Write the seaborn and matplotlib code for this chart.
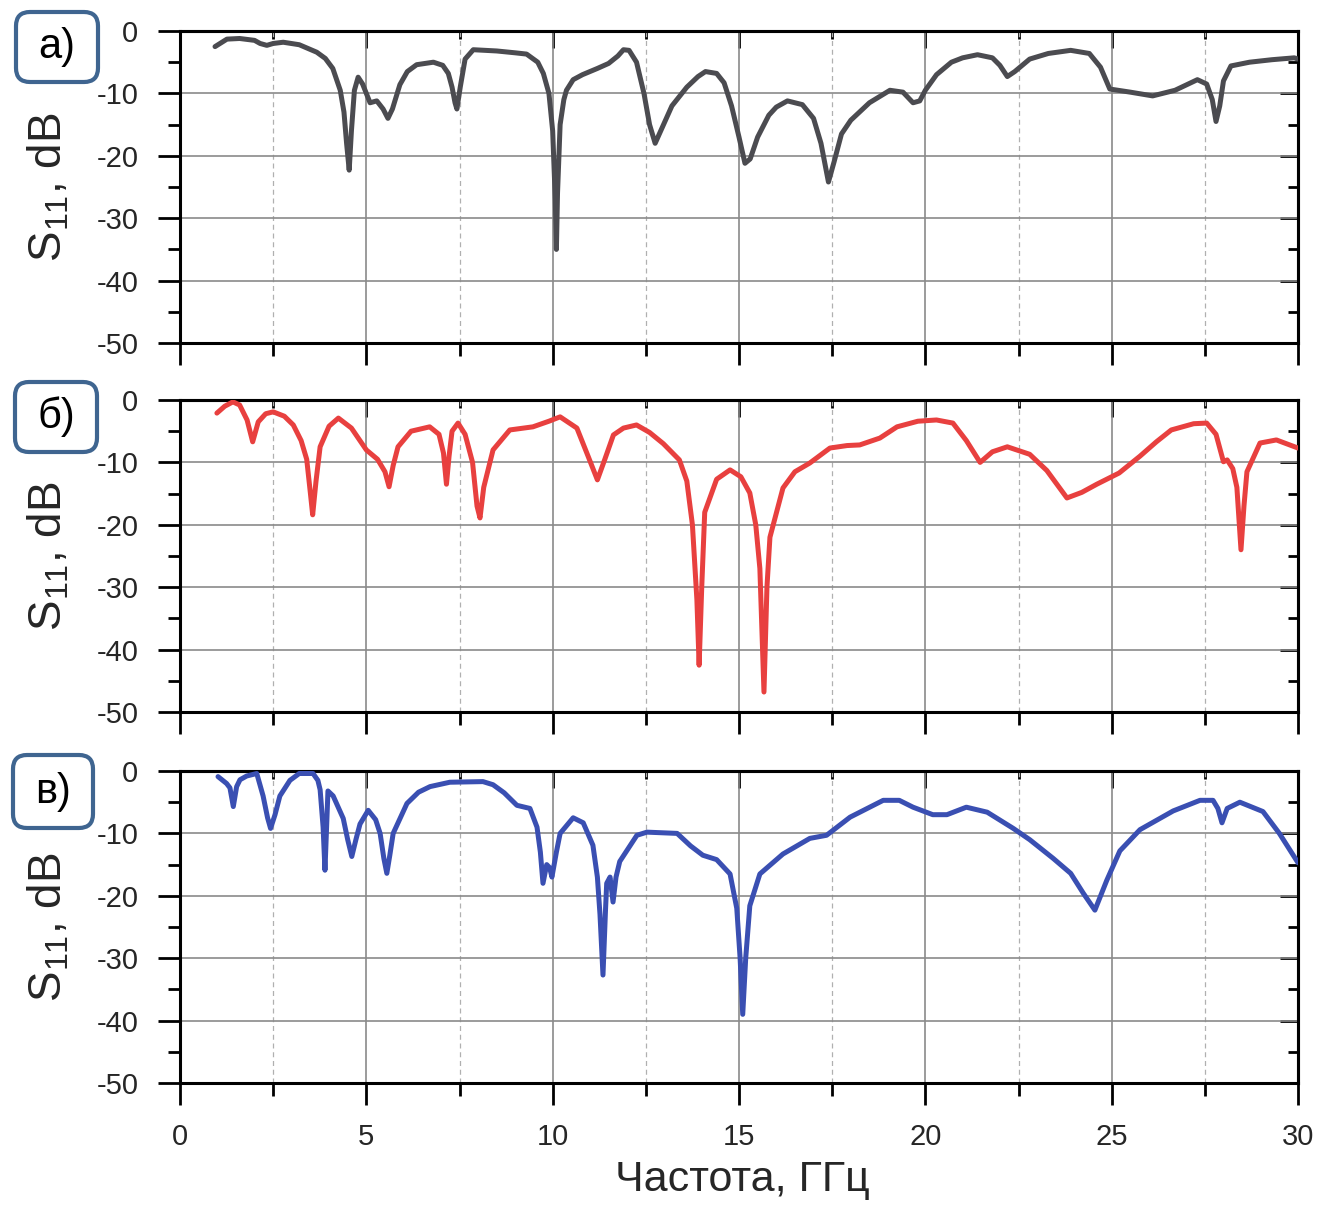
import matplotlib
matplotlib.use('Agg')
import matplotlib.pyplot as plt
import seaborn as sns
import pandas as pd
from matplotlib.ticker import MultipleLocator, NullFormatter
from matplotlib.patches import FancyBboxPatch

# ---------------- data ----------------
a_freq = [0.94, 1.26, 1.6, 2.0, 2.15, 2.33, 2.5, 2.77, 3.2, 3.67,
          3.9, 4.1, 4.3, 4.4, 4.47, 4.54, 4.6, 4.68, 4.78, 4.9, 5.1,
          5.28, 5.45, 5.58, 5.7, 5.9, 6.1, 6.35, 6.8, 7.05, 7.2,
          7.3, 7.38, 7.43, 7.52, 7.65, 7.87, 8.5, 9.0, 9.3, 9.6,
          9.75, 9.9, 10.0, 10.07, 10.1, 10.13, 10.2, 10.3, 10.37, 10.55,
          10.8, 11.2, 11.5, 11.75, 11.9, 12.05, 12.25, 12.45, 12.6, 12.75,
          12.9, 13.2, 13.6, 13.9, 14.1, 14.4, 14.6, 14.8, 15.0, 15.16, 15.3,
          15.5, 15.8, 16.0, 16.3, 16.7, 17.0, 17.2, 17.4, 17.55, 17.75, 18.0,
          18.5, 19.05, 19.4, 19.67, 19.85, 20.0, 20.3, 20.7, 21.0, 21.4, 21.8,
          22.0, 22.2, 22.4, 22.8, 23.3, 23.9, 24.4, 24.7, 24.95, 25.5,
          26.1, 26.7, 27.3, 27.55, 27.7, 27.8, 27.9, 28.0, 28.2, 28.7,
          29.3, 29.9, 30.0]
a_s11 = [-2.5, -1.3, -1.2, -1.5, -2.0, -2.3, -2.0, -1.8, -2.2, -3.4,
         -4.4, -6.0, -9.5, -13, -18, -22.3, -16, -9.5, -7.4, -8.5, -11.5,
         -11.2, -12.5, -14, -12.5, -8.6, -6.5, -5.4, -5.0, -5.5, -6.8,
         -9, -11.5, -12.5, -9, -4.5, -3.0, -3.2, -3.5, -3.7, -5,
         -6.8, -10, -16, -27, -35, -26, -15, -11, -9.5, -7.8,
         -7.0, -6.0, -5.2, -4.0, -3.0, -3.1, -5, -10, -15, -18,
         -16, -12, -9, -7.3, -6.5, -6.8, -8.3, -12, -17, -21.2, -20.5,
         -17, -13.5, -12.2, -11.2, -11.8, -14, -18, -24.2, -21, -16.5, -14.3,
         -11.5, -9.5, -9.8, -11.5, -11.2, -9.5, -7, -5, -4.3, -3.8, -4.3,
         -5.5, -7.3, -6.5, -4.5, -3.6, -3.1, -3.6, -5.8, -9.3, -9.8,
         -10.4, -9.5, -7.8, -8.5, -11, -14.5, -12, -8, -5.6, -5.0,
         -4.6, -4.3, -4.5]

b_freq = [0.99, 1.2, 1.42, 1.6, 1.8, 1.95, 2.1, 2.3, 2.5, 2.8,
          3.04, 3.25, 3.4, 3.5, 3.56, 3.65, 3.76, 4.0, 4.25, 4.6,
          5.0, 5.3, 5.5, 5.61, 5.72, 5.85, 6.2, 6.7, 6.95, 7.07,
          7.15, 7.22, 7.3, 7.46, 7.65, 7.85, 7.97, 8.05, 8.15, 8.4,
          8.85, 9.47, 9.9, 10.2, 10.65, 10.95, 11.2, 11.4, 11.63, 11.9, 12.25, 12.6,
          12.97, 13.4, 13.6, 13.75, 13.87, 13.93, 14.0, 14.08, 14.4, 14.76,
          15.05, 15.29, 15.45, 15.56, 15.67, 15.75, 15.83, 16.18, 16.5, 16.9,
          17.44, 17.9, 18.24, 18.78, 19.24, 19.8, 20.3, 20.74, 21.1, 21.47,
          21.8, 22.2, 22.8, 23.26, 23.8, 24.2, 24.6, 25.2, 25.76, 26.2, 26.6,
          27.2, 27.55, 27.8, 28.0, 28.1, 28.25, 28.36, 28.47, 28.55, 28.63,
          28.98, 29.42, 30.0]
b_s11 = [-2.1, -1.0, -0.3, -0.8, -3.2, -6.7, -3.5, -2.2, -1.9, -2.6,
         -4.0, -6.5, -9.5, -15, -18.4, -13, -7.5, -4.2, -2.9, -4.5,
         -8.0, -9.5, -11.5, -13.9, -10.5, -7.5, -5.0, -4.3, -5.5, -8.5,
         -13.5, -9, -5, -3.7, -5.5, -10, -17, -18.9, -14, -8.0,
         -4.8, -4.3, -3.4, -2.7, -4.5, -9, -12.8, -9.5, -5.6, -4.5, -4.0, -5.2,
         -7, -9.6, -13, -20, -32, -42.5, -30, -18, -12.7, -11.2,
         -12.3, -14.9, -20, -27, -46.8, -30, -22, -14.1, -11.5, -10.1,
         -7.7, -7.3, -7.2, -6.1, -4.3, -3.4, -3.2, -3.7, -6.5, -10.0,
         -8.3, -7.5, -8.7, -11.3, -15.7, -14.8, -13.5, -11.7, -9.0, -6.7, -4.8,
         -3.8, -3.7, -5.5, -9.9, -9.6, -11, -14, -24, -17, -11.5,
         -6.9, -6.4, -7.7]

c_freq = [1.02, 1.25, 1.34, 1.43, 1.52, 1.61, 1.79, 2.06, 2.23, 2.35,
          2.43, 2.55, 2.68, 2.95, 3.2, 3.57, 3.7, 3.76, 3.84, 3.89,
          3.94, 3.97, 4.11, 4.38, 4.5, 4.61, 4.72, 4.83, 5.05, 5.25,
          5.37, 5.47, 5.55, 5.63, 5.72, 6.09, 6.4, 6.71, 7.24, 8.13, 8.4,
          8.7, 9.04, 9.39, 9.58, 9.67, 9.74, 9.84, 9.92, 9.98, 10.1,
          10.2, 10.55, 10.82, 11.08, 11.2, 11.27, 11.35, 11.42, 11.45, 11.54,
          11.62, 11.7, 11.8, 12.26, 12.53, 13.34, 13.7, 14.03, 14.4, 14.76,
          14.94, 15.03, 15.1, 15.18, 15.29, 15.56, 16.18, 16.9, 17.35, 17.98,
          18.87, 19.3, 19.67, 20.2, 20.58, 21.1, 21.66, 22.36, 22.8, 23.43,
          23.9, 24.24, 24.55, 24.87, 25.22, 25.76, 26.65, 27.37, 27.72, 27.85,
          27.96, 28.1, 28.44, 29.06, 29.5, 30.0]
c_s11 = [-0.9, -2.0, -2.7, -5.7, -2.5, -1.4, -0.8, -0.4, -4.0, -7.5,
         -9.2, -7, -4.0, -1.5, -0.4, -0.4, -1.5, -3.0, -9, -15.9,
         -8, -3.2, -4.0, -7.6, -11, -13.7, -11, -8.5, -6.3, -7.8,
         -10, -14, -16.4, -13.5, -10, -5.2, -3.4, -2.5, -1.8, -1.7, -2.2,
         -3.5, -5.5, -6.0, -9.0, -13, -18, -15, -15.5, -17, -13,
         -10, -7.5, -8.3, -11.9, -17, -23, -32.7, -22, -18, -17,
         -21, -17, -14.5, -10.3, -9.8, -10.0, -12, -13.5, -14.2, -16.5,
         -22, -30, -39, -30, -21.6, -16.5, -13.3, -10.8, -10.3, -7.4,
         -4.7, -4.7, -5.8, -7.0, -7.0, -5.8, -6.6, -9.2, -11.0, -14.0,
         -16.4, -19.6, -22.3, -17.5, -12.8, -9.4, -6.4, -4.7, -4.7, -6,
         -8.3, -6, -5.0, -6.5, -10, -14.7]

panel_labels = ["а)", "б)", "в)"]
line_colors = ["#4b4b50", "#e8403f", "#3a4fb2"]
x_ticks = [0, 5, 10, 15, 20, 25, 30]
y_ticks = [0, -10, -20, -30, -40, -50]
y_label = "S$_{11}$, dB"
x_label = "Частота, ГГц"

# ---------------- style ----------------
sns.set_theme(style="white")
plt.rcParams['font.family'] = ['Liberation Sans', 'DejaVu Sans']
plt.rcParams['axes.unicode_minus'] = False
plt.rcParams['mathtext.fontset'] = 'custom'
plt.rcParams['mathtext.rm'] = 'Liberation Sans'
plt.rcParams['mathtext.it'] = 'Liberation Sans'
plt.rcParams['mathtext.default'] = 'regular'

fig = plt.figure(figsize=(13.22, 12.05), dpi=100)

W, H = 1322, 1205
left_px, right_px = 180, 1298
panels_px = [(31, 343), (400, 712), (771, 1083)]
boxes_px = [(16, 12, 82, 70), (15, 382, 82, 70), (13, 755, 80, 73)]

series = [(a_freq, a_s11), (b_freq, b_s11), (c_freq, c_s11)]

for i, ((top, bot), (fx, fy), col, lab, box) in enumerate(
        zip(panels_px, series, line_colors, panel_labels, boxes_px)):
    ax = fig.add_axes([left_px / W, 1 - bot / H, (right_px - left_px) / W, (bot - top) / H])
    df = pd.DataFrame({"f": fx, "s": fy})
    sns.lineplot(data=df, x="f", y="s", ax=ax, color=col, linewidth=3.6,
                 estimator=None, sort=False, zorder=5)
    ax.set_xlim(0, 30)
    ax.set_ylim(-50, 0)
    ax.set_xticks(x_ticks)
    ax.set_yticks(y_ticks)
    ax.xaxis.set_minor_locator(MultipleLocator(2.5))
    ax.yaxis.set_minor_locator(MultipleLocator(5))
    ax.grid(which='major', axis='both', color='#8a8a8a', linewidth=1.2, linestyle='-')
    ax.grid(which='minor', axis='x', color='#b0b0b0', linewidth=0.9, linestyle=(0, (4, 3)))
    ax.grid(which='minor', axis='y', visible=False)
    ax.set_axisbelow(True)
    for sp in ax.spines.values():
        sp.set_linewidth(2.2)
        sp.set_color('black')
    ax.tick_params(which='both', direction='out', top=False, right=False,
                   bottom=True, left=True, width=2.0, color='black')
    ax.tick_params(which='major', length=16)
    ax.tick_params(which='minor', length=9)
    ax.tick_params(axis='y', which='major', pad=14, labelsize=21)
    ax.tick_params(axis='x', which='major', pad=13, labelsize=21)
    if i < 2:
        ax.tick_params(axis='x', labelbottom=False)
    ax.set_xlabel("")
    ax.set_ylabel(y_label, fontsize=33)
    ax.yaxis.set_label_coords(-0.097, 0.5)

    sx = ax.secondary_xaxis('top')
    sx.xaxis.set_major_locator(MultipleLocator(5))
    sx.xaxis.set_minor_locator(MultipleLocator(2.5))
    sx.xaxis.set_major_formatter(NullFormatter())
    sx.tick_params(which='both', direction='in', width=2.0, color='black')
    sx.tick_params(which='major', length=12)
    sx.tick_params(which='minor', length=6)
    for sp in sx.spines.values():
        sp.set_linewidth(2.2)

    sy = ax.secondary_yaxis('right')
    sy.yaxis.set_major_locator(MultipleLocator(10))
    sy.yaxis.set_minor_locator(MultipleLocator(5))
    sy.yaxis.set_major_formatter(NullFormatter())
    sy.tick_params(which='both', direction='in', width=2.0, color='black')
    sy.tick_params(which='major', length=13)
    sy.tick_params(which='minor', length=7)
    for sp in sy.spines.values():
        sp.set_linewidth(2.2)

    bx, by, bw, bh = box
    patch = FancyBboxPatch((bx / 100, (H - by - bh) / 100), bw / 100, bh / 100,
                           boxstyle="round,pad=0,rounding_size=0.14",
                           transform=fig.dpi_scale_trans,
                           facecolor='white', edgecolor='#3f6590', linewidth=3)
    fig.add_artist(patch)
    fig.text((bx + bw / 2) / W, 1 - (by + bh / 2) / H, lab, fontsize=30,
             ha='center', va='center', color='black')

fig.text(742 / W, 1 - 1160 / H, x_label, fontsize=31, ha='center', va='top')

fig.savefig("out.png", dpi=100)
